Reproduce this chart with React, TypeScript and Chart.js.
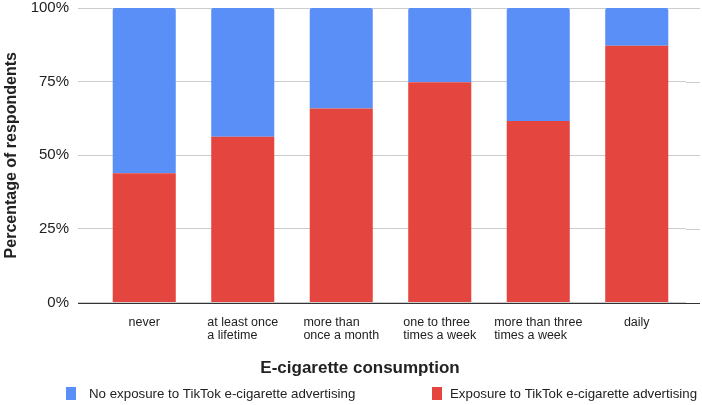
import { useEffect, useRef } from "react";
import { Chart, registerables } from "chart.js";

Chart.register(...registerables);

const categories: (string | string[])[] = [
  "never",
  ["at least once", "a lifetime"],
  ["more than", "once a month"],
  ["one to three", "times a week"],
  ["more than three", "times a week"],
  "daily",
];
const exposure = [43.9, 56.3, 65.9, 74.8, 61.6, 87.2];
const noExposure = [56.1, 43.7, 34.1, 25.2, 38.4, 12.8];
const yTickValues = [0, 25, 50, 75, 100];
const seriesNames = [
  "No exposure to TikTok e-cigarette advertising",
  "Exposure to TikTok e-cigarette advertising",
];
const xTitle = "E-cigarette consumption";
const yTitle = "Percentage of respondents";

const BLUE = "#5a8ff7";
const RED = "#e4453e";
const TEXT = "#222222";
const FONT = "'Liberation Sans', Arial, sans-serif";

const customPlugin = {
  id: "customDecor",
  beforeDatasetsDraw(chart: any) {
    const { ctx, chartArea, scales } = chart;
    const y = scales.y;
    ctx.save();
    ctx.lineWidth = 1;
    ctx.strokeStyle = "#cccccc";
    y.ticks.forEach((t: any) => {
      if (t.value === 0) return;
      const py = Math.round(y.getPixelForValue(t.value)) + 0.5;
      ctx.beginPath();
      ctx.moveTo(chartArea.right, py);
      ctx.lineTo(chartArea.right + 14, py);
      ctx.stroke();
    });
    ctx.restore();
  },
  afterDatasetsDraw(chart: any) {
    const { ctx, chartArea, scales } = chart;
    const y = scales.y;
    const py = Math.round(y.getPixelForValue(0)) + 0.5;
    ctx.save();
    ctx.strokeStyle = "#333333";
    ctx.lineWidth = 1;
    ctx.beginPath();
    ctx.moveTo(chartArea.left - 17, py);
    ctx.lineTo(chartArea.right + 14, py);
    ctx.stroke();
    ctx.restore();
  },
  afterDraw(chart: any) {
    const { ctx, scales } = chart;
    const x = scales.x;
    ctx.save();
    ctx.fillStyle = TEXT;
    ctx.textBaseline = "alphabetic";
    // category labels: left-aligned lines in a centered block
    ctx.font = `12.5px ${FONT}`;
    ctx.textAlign = "left";
    categories.forEach((lab, i) => {
      const lines = Array.isArray(lab) ? lab : [lab];
      const cx = x.getPixelForValue(i);
      const w = Math.max(...lines.map((l) => ctx.measureText(l).width));
      const left = cx - w / 2;
      lines.forEach((l, j) => {
        ctx.fillText(l, left, 325.5 + j * 13.5);
      });
    });
    // x title
    ctx.font = `bold 17px ${FONT}`;
    ctx.textAlign = "center";
    ctx.fillText(xTitle, 360, 373);
    // legend
    ctx.font = `13.3px ${FONT}`;
    ctx.textAlign = "left";
    const colors = [BLUE, RED];
    const starts = [66, 432];
    const textStarts = [89, 450];
    seriesNames.forEach((name, i) => {
      ctx.fillStyle = colors[i];
      ctx.fillRect(starts[i], 387, 10, 13);
      ctx.fillStyle = TEXT;
      ctx.fillText(name, textStarts[i], 398);
    });
    ctx.restore();
  },
};

export default function App() {
  const ref = useRef<HTMLCanvasElement | null>(null);
  useEffect(() => {
    document.body.style.margin = "0";
    const canvas = ref.current;
    if (!canvas) return;
    const chart = new Chart(canvas, {
      type: "bar",
      data: {
        labels: categories as any,
        datasets: [
          {
            label: seriesNames[1],
            data: exposure,
            backgroundColor: RED,
            borderWidth: 0,
            barPercentage: 0.64,
            categoryPercentage: 1,
          },
          {
            label: seriesNames[0],
            data: noExposure,
            backgroundColor: BLUE,
            borderWidth: 0,
            borderSkipped: "bottom",
            borderRadius: { topLeft: 2, topRight: 2, bottomLeft: 0, bottomRight: 0 },
            barPercentage: 0.64,
            categoryPercentage: 1,
          },
        ],
      },
      options: {
        responsive: false,
        animation: false,
        layout: { padding: { top: 8, right: 16, bottom: 94.5, left: 0 } },
        plugins: {
          legend: { display: false },
          tooltip: { enabled: false },
        },
        scales: {
          x: {
            stacked: true,
            ticks: { display: false },
            grid: { display: false },
            border: { display: false },
          },
          y: {
            stacked: true,
            min: 0,
            max: 100,
            afterBuildTicks: (s: any) => {
              s.ticks = yTickValues.map((v) => ({ value: v }));
            },
            afterFit: (s: any) => {
              s.width = 95;
              s.paddingTop = 0;
              s.paddingBottom = 0;
            },
            ticks: {
              padding: 9,
              color: TEXT,
              font: { family: FONT, size: 15 },
              callback: (v: any) => `${v}%`,
            },
            grid: {
              color: "#cccccc",
              drawTicks: true,
              tickLength: 17,
            },
            border: { display: false },
            title: {
              display: true,
              text: yTitle,
              color: TEXT,
              font: { family: FONT, size: 16, weight: "bold" },
              padding: { top: 1.5, bottom: 0 },
            },
          },
        },
      },
      plugins: [customPlugin],
    });
    return () => chart.destroy();
  }, []);
  return <canvas ref={ref} width={702} height={405} style={{ display: "block" }} />;
}
